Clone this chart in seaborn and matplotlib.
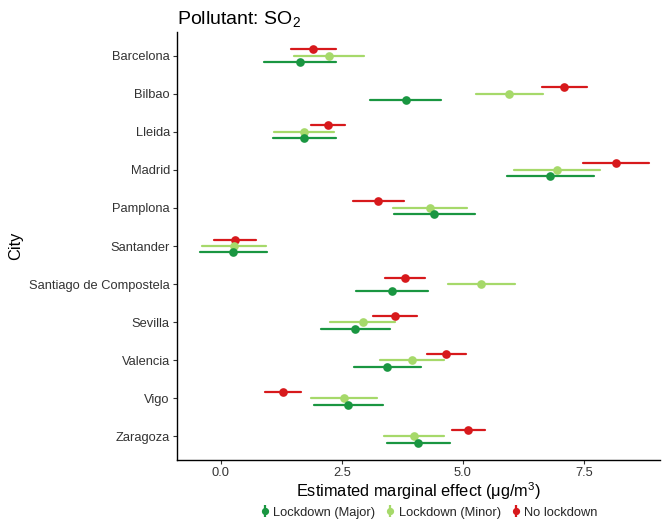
import numpy as np
import pandas as pd
import matplotlib
matplotlib.use("Agg")
import matplotlib.pyplot as plt
from matplotlib.lines import Line2D
from matplotlib.legend_handler import HandlerTuple
import seaborn as sns

cities = ["Barcelona", "Bilbao", "Lleida", "Madrid", "Pamplona", "Santander",
          "Santiago de Compostela", "Sevilla", "Valencia", "Vigo", "Zaragoza"]

major_est = [1.64, 3.82, 1.71, 6.80, 4.41, 0.25, 3.53, 2.78, 3.44, 2.63, 4.08]
major_lo  = [0.90, 3.09, 1.07, 5.91, 3.57, -0.43, 2.79, 2.07, 2.75, 1.92, 3.43]
major_hi  = [2.38, 4.55, 2.37, 7.71, 5.25, 0.95, 4.27, 3.49, 4.13, 3.34, 4.73]

minor_est = [2.24, 5.96, 1.71, 6.94, 4.32, 0.27, 5.38, 2.93, 3.95, 2.54, 3.99]
minor_lo  = [1.52, 5.27, 1.10, 6.05, 3.55, -0.39, 4.69, 2.26, 3.28, 1.87, 3.36]
minor_hi  = [2.95, 6.65, 2.34, 7.84, 5.08, 0.94, 6.08, 3.60, 4.61, 3.22, 4.61]

none_est = [1.91, 7.09, 2.21, 8.16, 3.25, 0.30, 3.80, 3.60, 4.66, 1.29, 5.11]
none_lo  = [1.44, 6.64, 1.87, 7.47, 2.73, -0.14, 3.39, 3.14, 4.25, 0.91, 4.77]
none_hi  = [2.38, 7.56, 2.56, 8.85, 3.78, 0.72, 4.21, 4.05, 5.07, 1.66, 5.45]

groups = ["Lockdown (Major)", "Lockdown (Minor)", "No lockdown"]
colors = {"Lockdown (Major)": "#1a9641", "Lockdown (Minor)": "#a6d96a", "No lockdown": "#d7191c"}

series = {
    "Lockdown (Major)": (major_est, major_lo, major_hi),
    "Lockdown (Minor)": (minor_est, minor_lo, minor_hi),
    "No lockdown": (none_est, none_lo, none_hi),
}

rows = []
for g, (est, lo, hi) in series.items():
    for i, c in enumerate(cities):
        for v in (lo[i], est[i], hi[i]):
            rows.append({"City": c, "Group": g, "Effect": v})
df = pd.DataFrame(rows)

sns.set_theme(style="ticks")
plt.rcParams["font.family"] = ["Liberation Sans", "DejaVu Sans"]
plt.rcParams["mathtext.fontset"] = "custom"
plt.rcParams["mathtext.rm"] = "Liberation Sans"
plt.rcParams["mathtext.it"] = "Liberation Sans:italic"

fig = plt.figure(figsize=(6.62, 5.24), dpi=100)
ax = fig.add_axes([0.267, 0.122, 0.73, 0.817])

draw_order = ["No lockdown", "Lockdown (Minor)", "Lockdown (Major)"]
sns.pointplot(data=df, x="Effect", y="City", hue="Group", order=cities,
              hue_order=draw_order, palette=colors, estimator="median",
              errorbar=("pi", 100), dodge=0.34, linestyle="none",
              markers="o", markersize=4.2, err_kws={"linewidth": 1.6},
              orient="h", ax=ax, legend=False)

ax.set_xlim(-0.91, 9.07)
ax.set_ylim(10.62, -0.62)
ax.set_xticks([0, 2.5, 5, 7.5])
ax.set_xticklabels(["0.0", "2.5", "5.0", "7.5"])
for s in ["top", "right"]:
    ax.spines[s].set_visible(False)
for s in ["left", "bottom"]:
    ax.spines[s].set_color("black")
    ax.spines[s].set_linewidth(1.0)
ax.tick_params(axis="both", colors="#333333", labelsize=9.3, length=3, width=0.8,
               labelcolor="#333333", pad=2)
ax.set_xlabel(r"Estimated marginal effect (μg/m$^3$)", fontsize=11.8, color="black",
              labelpad=1)
ax.set_ylabel("City", fontsize=11.8, color="black", labelpad=4)
ax.set_title(r"Pollutant: SO$_2$", loc="left", fontsize=14, color="black", pad=6)

handles = []
for g in groups:
    bar = Line2D([], [], marker="|", linestyle="none", color=colors[g], markersize=9,
                 markeredgewidth=1.6)
    dot = Line2D([], [], marker="o", linestyle="none", color=colors[g], markersize=4.2)
    handles.append((bar, dot))
fig.legend(handles, groups, handler_map={tuple: HandlerTuple(ndivide=1, pad=0)},
           loc="lower center", bbox_to_anchor=(0.648, -0.012), ncol=3, frameon=False,
           fontsize=9.3, handlelength=0.7, handletextpad=0.3, columnspacing=0.8)

fig.savefig("out.png", dpi=100)
